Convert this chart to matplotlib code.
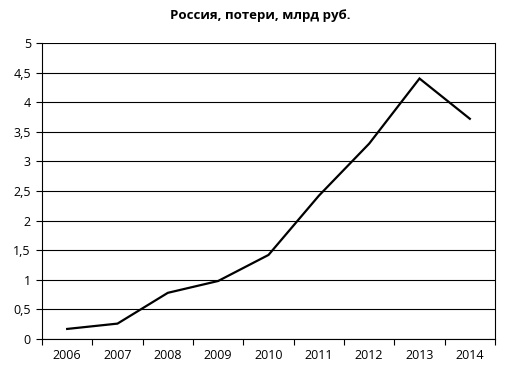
import matplotlib
matplotlib.use("Agg")
import matplotlib.pyplot as plt
import numpy as np
from matplotlib.ticker import FixedLocator, FuncFormatter

# data
years = ["2006", "2007", "2008", "2009", "2010", "2011", "2012", "2013", "2014"]
losses = [0.17, 0.26, 0.78, 0.98, 1.42, 2.42, 3.30, 4.40, 3.72]
y_ticks = [0, 0.5, 1, 1.5, 2, 2.5, 3, 3.5, 4, 4.5, 5]
title = "Россия, потери, млрд руб."

plt.rcParams["font.family"] = ["Open Sans", "DejaVu Sans"]

fig = plt.figure(figsize=(5.2, 3.67), dpi=100)
ax = fig.add_axes([42 / 520, 28 / 367, 453 / 520, 296 / 367])

x = np.arange(len(years))
ax.plot(x, losses, color="black", linewidth=1.6, solid_joinstyle="miter")

ax.set_xlim(-0.5, len(years) - 0.5)
ax.set_ylim(0, 5)

# horizontal gridlines
ax.set_yticks(y_ticks)
ax.yaxis.set_major_formatter(FuncFormatter(lambda v, _: f"{v:g}".replace(".", ",")))
ax.grid(axis="y", color="black", linewidth=0.8)
ax.set_axisbelow(True)

# category labels centred, tick marks between categories
ax.set_xticks(x)
ax.set_xticklabels(years)
ax.xaxis.set_minor_locator(FixedLocator(np.arange(-0.5, len(years), 1.0)))
ax.tick_params(axis="x", which="major", length=0, pad=7, labelsize=9)
ax.tick_params(axis="x", which="minor", length=4, width=0.8, direction="out")
ax.tick_params(axis="y", length=4, width=0.8, direction="out", pad=4, labelsize=9)

ax.spines["top"].set_visible(False)
for side in ("left", "right", "bottom"):
    ax.spines[side].set_linewidth(0.8)
    ax.spines[side].set_color("black")

fig.text(0.5, 1 - 15 / 367, title, ha="center", va="center",
         fontsize=9.5, fontweight="bold")

fig.savefig("out.png", dpi=100)
